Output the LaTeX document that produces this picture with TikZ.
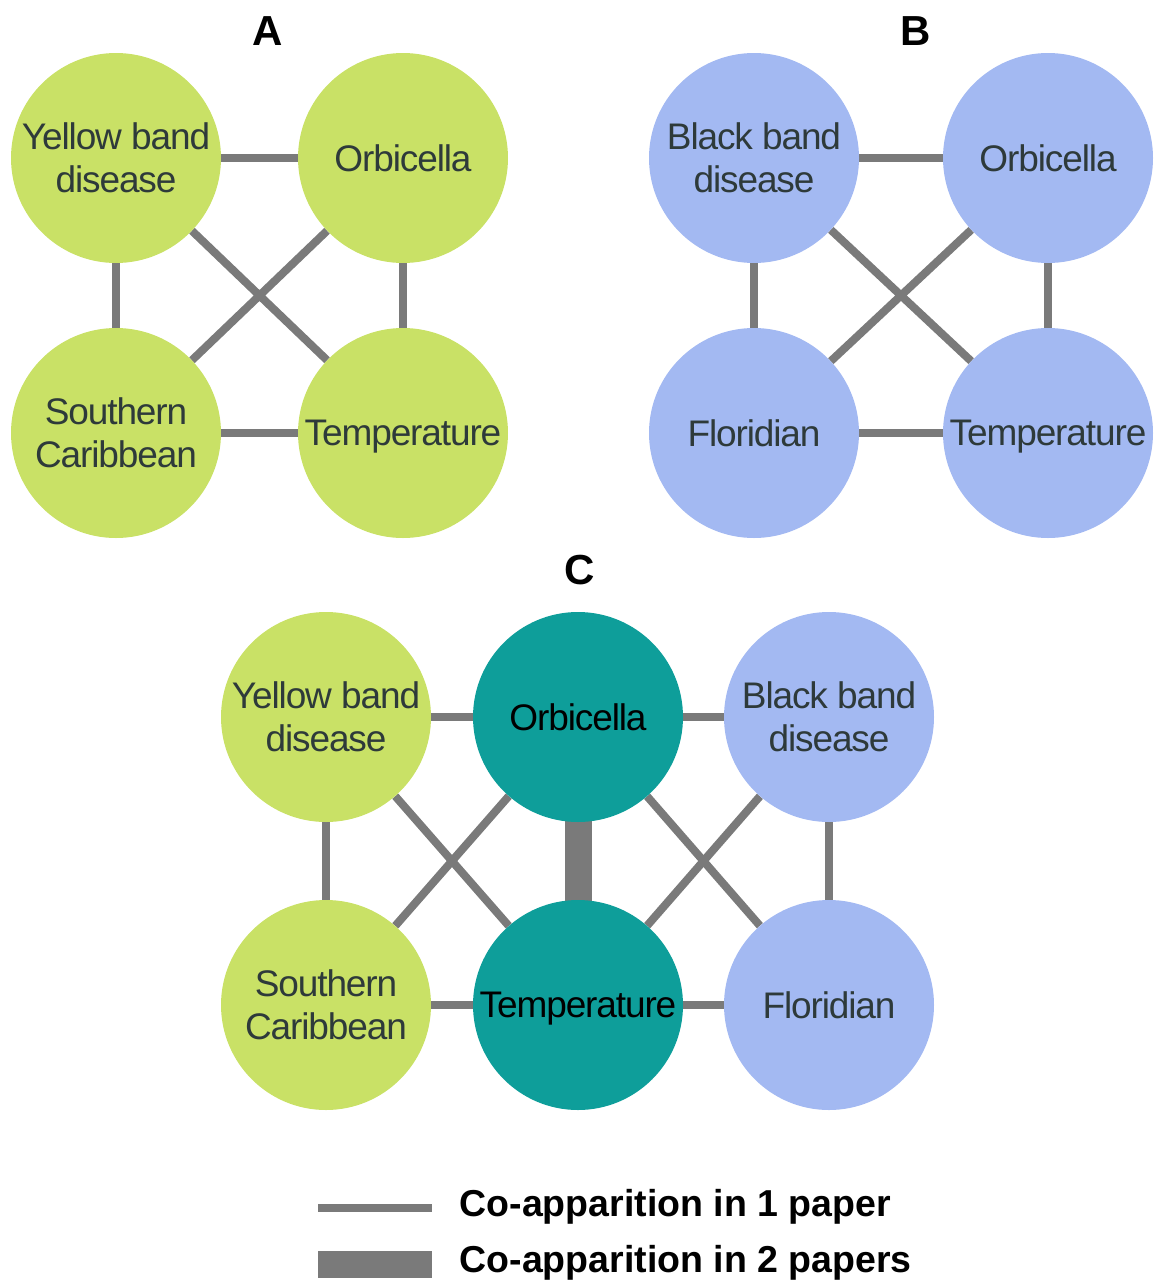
\documentclass[tikz,border=0pt]{standalone}
\usepackage{fontspec}
\setmainfont{Liberation Sans}
\newfontfamily\tightfont[LetterSpace=-3]{Liberation Sans}
\usetikzlibrary{backgrounds}

\definecolor{yellowband}{HTML}{C9E166}
\definecolor{blackband}{HTML}{A3B9F2}
\definecolor{shared}{HTML}{0E9E9A}
\definecolor{edgegray}{HTML}{7A7A7A}
\definecolor{labelgray}{HTML}{2E3A3A}

\tikzstyle{topic} = [circle, minimum size=210pt, inner sep=0pt, align=center,
  text depth=0pt, font=\tightfont\fontsize{37}{43}\selectfont, text=labelgray]
\tikzstyle{ybd} = [topic, fill=yellowband]
\tikzstyle{bbd} = [topic, fill=blackband]
\tikzstyle{both} = [topic, fill=shared, text=black]
\tikzstyle{onepaper} = [draw=edgegray, line width=8pt]
\tikzstyle{twopapers} = [draw=edgegray, line width=27pt]
\tikzstyle{paneltitle} = [font=\bfseries\fontsize{42}{42}\selectfont]
\tikzstyle{legendtext} = [anchor=west, font=\bfseries\fontsize{37.5}{37.5}\selectfont]

\begin{document}
\begin{tikzpicture}[x=1pt,y=-1pt]
\useasboundingbox (0,0) rectangle (1156,1283);

%panel A
\node[paneltitle] (titleA) at (268,31) {A};
\node[ybd] (ybdA) at (116,158) {Yellow band\\disease};
\node[ybd] (orbA) at (403,158) {Orbicella};
\node[ybd] (scA) at (116,433) {Southern\\Caribbean};
\node[ybd] (tempA) at (403,433) {Temperature};

%panel B
\node[paneltitle] (titleB) at (916,31) {B};
\node[bbd] (bbdB) at (754,158) {Black band\\disease};
\node[bbd] (orbB) at (1048,158) {Orbicella};
\node[bbd] (florB) at (754,433) {Floridian};
\node[bbd] (tempB) at (1048,433) {Temperature};

%panel C
\node[paneltitle] (titleC) at (580,570) {C};
\node[ybd] (ybdC) at (326,717) {Yellow band\\disease};
\node[both] (orbC) at (578,717) {Orbicella};
\node[bbd] (bbdC) at (829,717) {Black band\\disease};
\node[ybd] (scC) at (326,1005) {Southern\\Caribbean};
\node[both] (tempC) at (578,1005) {Temperature};
\node[bbd] (florC) at (829,1005) {Floridian};

%links
\begin{pgfonlayer}{background}
\path [onepaper] (ybdA) -- (orbA);
\path [onepaper] (ybdA) -- (scA);
\path [onepaper] (ybdA) -- (tempA);
\path [onepaper] (orbA) -- (scA);
\path [onepaper] (orbA) -- (tempA);
\path [onepaper] (scA) -- (tempA);

\path [onepaper] (bbdB) -- (orbB);
\path [onepaper] (bbdB) -- (florB);
\path [onepaper] (bbdB) -- (tempB);
\path [onepaper] (orbB) -- (florB);
\path [onepaper] (orbB) -- (tempB);
\path [onepaper] (florB) -- (tempB);

\path [onepaper] (ybdC) -- (orbC);
\path [onepaper] (orbC) -- (bbdC);
\path [onepaper] (ybdC) -- (scC);
\path [onepaper] (bbdC) -- (florC);
\path [onepaper] (scC) -- (tempC);
\path [onepaper] (tempC) -- (florC);
\path [onepaper] (ybdC) -- (tempC);
\path [onepaper] (orbC) -- (scC);
\path [onepaper] (orbC) -- (florC);
\path [onepaper] (bbdC) -- (tempC);
\path [twopapers] (orbC.center) -- (tempC.center);% shared in both papers
\end{pgfonlayer}

%legend
\coordinate (oneL) at (318,1208);
\coordinate (oneR) at (432,1208);
\coordinate (twoL) at (318,1264);
\coordinate (twoR) at (432,1264);
\path [onepaper] (oneL) -- (oneR);
\path [twopapers] (twoL) -- (twoR);
\node[legendtext] (keyone) at (456,1207) {Co-apparition in 1 paper};
\node[legendtext] (keytwo) at (456,1263) {Co-apparition in 2 papers};
\end{tikzpicture}
\end{document}
